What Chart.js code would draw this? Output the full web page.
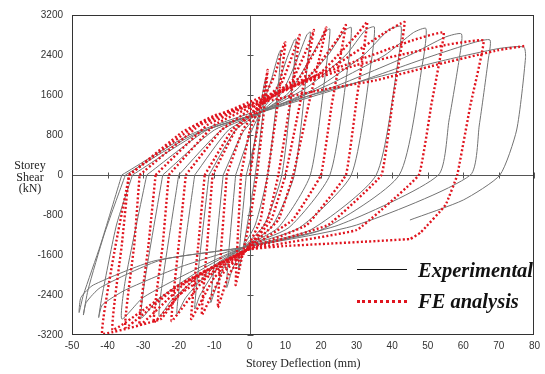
<!DOCTYPE html>
<html>
<head>
<meta charset="utf-8">
<script src="https://cdn.jsdelivr.net/npm/chart.js@4.4.1/dist/chart.umd.min.js"></script>
<style>
  body { margin: 0; background: #fff; }
  #wrap { position: relative; width: 545px; height: 374px; }
  .ytitle { position: absolute; left: 4px; top: 160px; width: 52px; text-align: center;
            font: 12px "Liberation Serif", serif; line-height: 11.5px; color: #222; }
  .leg { position: absolute; left: 357px; height: 24px; width: 190px; }
  .leg .sample { position: absolute; left: 0; top: 11px; width: 50px; }
  .leg .txt { position: absolute; left: 61px; top: 0; font: bold italic 20.5px "Liberation Serif", serif; color: #111; line-height: 24px; }
</style>
</head>
<body>
<div id="wrap">
  <canvas id="chart" width="545" height="374"></canvas>
  <div class="ytitle">Storey<br>Shear<br>(kN)</div>
  <div class="leg" style="top:258px"><div class="sample" style="border-top:1.5px solid #111"></div><div class="txt">Experimental</div></div>
  <div class="leg" style="top:289px"><div class="sample" style="border-top:3px dotted #e0141e"></div><div class="txt">FE analysis</div></div>
</div>
<script>
// axis ticks
const xTicks = [-50, -40, -30, -20, -10, 0, 10, 20, 30, 40, 50, 60, 70, 80];
const yTicks = [-3200, -2400, -1600, -800, 0, 800, 1600, 2400, 3200];

// experimental cycles, [deflection mm, shear kN]
const expCycle1 = [[0,0],[2,1000],[4,1800],[4.5,1950],[3.8,1300],[1.5,0],[-0.5,-900],[-2.5,-1700],[-3.2,-1900],[-2.6,-1200],[-1,0]];
const expCycle2 = [[-1,0],[1.5,700],[3,1250],[6,1900],[8,2400],[8.7,2500],[8,1800],[5,0],[1.5,-1000],[-2,-1450],[-5,-1900],[-6.5,-2250],[-6,-1600],[-4,0]];
const expCycle3 = [[-4,0],[0,800],[3,1250],[7,1650],[10.5,2350],[12.5,2700],[13,2720],[12.3,2100],[9,0],[4,-1000],[-2,-1450],[-7,-1800],[-10,-2350],[-11,-2550],[-10.3,-2000],[-7.5,0]];
const expCycle4 = [[-7.5,0],[-2,850],[3,1250],[9,1650],[13.5,2350],[16,2800],[17,2860],[16.3,2300],[12.5,0],[6,-1050],[-2,-1450],[-9,-1850],[-14,-2400],[-15.5,-2680],[-14.8,-2100],[-11.5,0]];
const expCycle5 = [[-11.5,0],[-4,900],[3,1250],[11,1650],[17.5,2400],[21,2850],[22.5,2920],[21.7,2300],[17,0],[8,-1050],[-2,-1450],[-11,-1900],[-18,-2450],[-20.5,-2780],[-19.6,-2100],[-15.5,0]];
const expCycle6 = [[-15.5,0],[-6,900],[3,1250],[13,1700],[22,2400],[26.5,2880],[28.5,2950],[27.8,2300],[22.5,0],[11,-1050],[-2,-1450],[-13,-1950],[-22,-2500],[-25.5,-2830],[-24.5,-2100],[-20,0]];
const expCycle7 = [[-20,0],[-8,900],[3,1250],[16,1750],[27,2400],[32.5,2900],[35,2960],[34.2,2300],[28.5,0],[14,-1050],[-2,-1450],[-15,-1950],[-26,-2500],[-30.5,-2860],[-29.5,-2100],[-24.5,0]];
const expCycle8 = [[-24.5,0],[-10,900],[3,1250],[19,1750],[32,2400],[39,2900],[42.5,2970],[41.7,2300],[35.5,0],[17,-1100],[-2,-1450],[-17,-1950],[-30,-2450],[-36,-2880],[-35,-2100],[-29,0]];
const expCycle9 = [[-29,0],[-12,900],[3,1250],[22,1800],[38,2400],[46,2850],[49.5,2930],[48.7,2300],[42,0],[20,-1100],[-2,-1450],[-20,-1850],[-35,-2300],[-41.5,-2600],[-42.5,-2850],[-41.5,-2400],[-37.5,-1000],[-33,0]];
const expCycle10 = [[-33,0],[-14,850],[3,1250],[25,1800],[45,2400],[55,2760],[59.5,2820],[58.8,2300],[56,1100],[53,0],[25,-1000],[-2,-1450],[-25,-1700],[-42,-2250],[-46,-2550],[-46.8,-2800],[-45.5,-2300],[-41,-1200],[-35,0]];
const expCycle11 = [[-35,0],[-16,800],[3,1250],[28,1800],[50,2350],[63,2650],[67.5,2700],[67,2300],[64.5,1000],[62,0],[30,-1000],[-2,-1450],[-27,-1720],[-44,-2200],[-47.5,-2450],[-48,-2750],[-46.8,-2400],[-42,-1400],[-36,0]];
const expCycle12 = [[-36,0],[-17,800],[3,1300],[30,1850],[55,2300],[70,2530],[77,2560],[77.5,2350],[75,900],[70.3,0],[60,-500],[45,-900]];

// FE analysis cycles
const feCycle1 = [[0,0],[2.5,1100],[4.5,1900],[5,2100],[4,1300],[2,0],[0,-900],[-3,-1900],[-4,-2200],[-3.3,-1100],[-2.5,0]];
const feCycle2 = [[-2.5,0],[0,900],[3,1400],[7,2000],[9.5,2600],[10,2650],[8,1500],[5,0],[3,-900],[-1,-1500],[-6,-2000],[-9,-2650],[-8,-1400],[-6.5,0]];
const feCycle3 = [[-6.5,0],[-2,900],[3,1400],[9,1850],[12.5,2500],[14,2800],[11,1300],[8,0],[5,-900],[-1,-1500],[-8,-2000],[-13.5,-2800],[-12,-1400],[-10.5,0]];
const feCycle4 = [[-10.5,0],[-4,900],[3,1400],[12,1900],[16.5,2600],[18,2900],[14,1400],[10,0],[6,-900],[-1,-1500],[-10,-2050],[-16.5,-2880],[-14.5,-1400],[-12.7,0]];
const feCycle5 = [[-12.7,0],[-5,900],[3,1400],[14,1950],[20,2700],[21.5,2950],[16.5,1400],[12.2,0],[8,-900],[-1,-1500],[-13,-2100],[-22,-2920],[-20,-1400],[-18,0]];
const feCycle6 = [[-18,0],[-8,900],[3,1450],[17,2000],[25,2750],[27,3000],[23,1400],[20,0],[12,-900],[-1,-1500],[-16,-2100],[-27,-2950],[-24.5,-1400],[-22.8,0]];
const feCycle7 = [[-22.8,0],[-10,1000],[3,1450],[20,2050],[30,2800],[33,3060],[30,1500],[27,0],[16,-1000],[-1,-1500],[-18,-2150],[-31,-3000],[-28.5,-1400],[-26.5,0]];
const feCycle8 = [[-26.5,0],[-12,1000],[3,1500],[22,2100],[38,2850],[43.5,3060],[40.2,1500],[37,0],[22,-1000],[-1,-1500],[-20,-2200],[-35,-3050],[-32.5,-1400],[-31,0]];
const feCycle9 = [[-31,0],[-14,1000],[3,1500],[25,2150],[46,2700],[54.5,2850],[51,1400],[47.5,0],[30,-1100],[-1,-1500],[-22,-2300],[-38.6,-3100],[-36,-1400],[-34,0]];
const feCycle10 = [[-34,0],[-15,1000],[3,1550],[30,2200],[55,2600],[65.7,2690],[62,1400],[58.3,0],[55,-600],[48,-1150],[45,-1280],[10,-1420],[-1,-1500],[-20,-2400],[-25,-2880],[-41.5,-3180],[-38,-1500],[-33.9,0]];
const feCycle11 = [[-33.9,0],[-19,860],[-10,1190],[3,1450],[20,1700],[35.3,1892],[55,2250],[70,2500],[77.2,2580]];

const expCycles = [expCycle1, expCycle2, expCycle3, expCycle4, expCycle5, expCycle6, expCycle7, expCycle8, expCycle9, expCycle10, expCycle11, expCycle12];
const feCycles = [feCycle1, feCycle2, feCycle3, feCycle4, feCycle5, feCycle6, feCycle7, feCycle8, feCycle9, feCycle10, feCycle11];

const toPts = arr => arr.map(p => ({ x: p[0], y: p[1] }));

const datasets = [];
feCycles.forEach(c => datasets.push({
    data: toPts(c), showLine: true, pointRadius: 0, tension: 0.08,
    borderColor: 'rgb(224,20,30)', borderWidth: 2.4, borderDash: [2, 2.2], borderCapStyle: 'butt'
}));
expCycles.forEach(c => datasets.push({
    data: toPts(c), showLine: true, pointRadius: 0, tension: 0.2,
    borderColor: 'rgb(115,115,115)', borderWidth: 1
}));

// box, zero axes and their tick marks
const frame = {
    id: 'frame',
    beforeDatasetsDraw(chart) {
        const { ctx, chartArea: a, scales: { x, y } } = chart;
        const x0 = Math.round(x.getPixelForValue(0)) + 0.5;
        const y0 = Math.round(y.getPixelForValue(0)) + 0.5;
        ctx.save();
        ctx.strokeStyle = '#555';
        ctx.lineWidth = 1;
        ctx.beginPath();
        ctx.moveTo(a.left, y0); ctx.lineTo(a.right, y0);
        ctx.moveTo(x0, a.top); ctx.lineTo(x0, a.bottom);
        xTicks.forEach(v => {
            const p = Math.round(x.getPixelForValue(v)) + 0.5;
            ctx.moveTo(p, y0 - 3); ctx.lineTo(p, y0 + 3);
        });
        yTicks.forEach(v => {
            const p = Math.round(y.getPixelForValue(v)) + 0.5;
            ctx.moveTo(x0 - 3, p); ctx.lineTo(x0 + 3, p);
        });
        ctx.stroke();
        ctx.restore();
    },
    afterDatasetsDraw(chart) {
        const { ctx, chartArea: a } = chart;
        ctx.save();
        ctx.strokeStyle = '#333';
        ctx.lineWidth = 1;
        ctx.strokeRect(Math.round(a.left) + 0.5, Math.round(a.top) + 0.5, Math.round(a.width) - 1, Math.round(a.height) - 1);
        ctx.restore();
    }
};

new Chart(document.getElementById('chart').getContext('2d'), {
    type: 'scatter',
    data: { datasets },
    options: {
        responsive: false,
        animation: false,
        devicePixelRatio: 1,
        layout: { padding: { left: 0, right: 3, top: 15, bottom: 0 } },
        plugins: { legend: { display: false }, tooltip: { enabled: false } },
        scales: {
            x: {
                type: 'linear', min: -50, max: 80,
                afterBuildTicks: s => { s.ticks = xTicks.map(v => ({ value: v })); },
                afterFit: s => { s.height = 39; },
                grid: { display: false, drawTicks: false },
                border: { display: false },
                ticks: { autoSkip: false, maxRotation: 0, padding: 5, color: '#333',
                         font: { family: 'Liberation Sans, Arial', size: 10 }, callback: v => String(v) },
                title: { display: true, text: 'Storey Deflection (mm)', color: '#222',
                         font: { family: 'Liberation Serif, serif', size: 12 }, padding: { top: 0, bottom: 3 } }
            },
            y: {
                type: 'linear', min: -3200, max: 3200,
                afterBuildTicks: s => { s.ticks = yTicks.map(v => ({ value: v })); },
                afterFit: s => { s.width = 72; },
                grid: { display: false, drawTicks: false },
                border: { display: false },
                ticks: { autoSkip: false, padding: 9, color: '#333',
                         font: { family: 'Liberation Sans, Arial', size: 10 }, callback: v => String(v) }
            }
        }
    },
    plugins: [frame]
});
</script>
</body>
</html>
